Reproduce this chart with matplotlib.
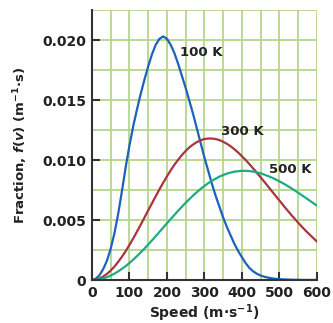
import numpy as np
import matplotlib.pyplot as plt

speed = list(range(0, 601, 10))

f_100K = [0, 0.0001, 0.0004, 0.0009, 0.0016, 0.0026, 0.0039, 0.0055, 0.0074, 0.0094,
          0.0112, 0.0128, 0.0142, 0.0155, 0.0167, 0.0178, 0.0188, 0.0196, 0.0201, 0.0203,
          0.0201, 0.0196, 0.0189, 0.0180, 0.0170, 0.0160, 0.0149, 0.0138, 0.0126, 0.0114,
          0.0102, 0.0091, 0.0080, 0.0070, 0.0061, 0.0052, 0.0044, 0.0037, 0.0030, 0.0024,
          0.0019, 0.0014, 0.0010, 0.00072, 0.00052, 0.00037, 0.00027, 0.0002, 0.00014, 0.0001,
          0.00007, 0.00005, 0.00004, 0.00003, 0.00002, 0.00002, 0.00001, 0.00001, 0.00001,
          0.00001, 0.00001]
f_300K = [0, 0.00003, 0.00013, 0.00029, 0.00051, 0.00079, 0.00112, 0.00151, 0.00194, 0.00241,
          0.00292, 0.00346, 0.00403, 0.00461, 0.0052, 0.0058, 0.00639, 0.00698, 0.00756, 0.00811,
          0.00864, 0.00914, 0.00961, 0.01003, 0.01042, 0.01076, 0.01106, 0.0113, 0.0115, 0.01165,
          0.01175, 0.01179, 0.01179, 0.01175, 0.01166, 0.01152, 0.01135, 0.01114, 0.01089, 0.01062,
          0.01031, 0.01, 0.00965, 0.00929, 0.00892, 0.00855, 0.00817, 0.00778, 0.00739, 0.007,
          0.00662, 0.00623, 0.00585, 0.00548, 0.00512, 0.00477, 0.00443, 0.0041, 0.0038, 0.0035,
          0.0032]
f_500K = [0, 0.00002, 0.00006, 0.00014, 0.00024, 0.00037, 0.00053, 0.00072, 0.00093, 0.00116,
          0.00142, 0.0017, 0.00199, 0.0023, 0.00262, 0.00296, 0.0033, 0.00365, 0.00401, 0.00437,
          0.00473, 0.00508, 0.00543, 0.00578, 0.00611, 0.00644, 0.00675, 0.00705, 0.00733, 0.0076,
          0.00784, 0.00807, 0.00827, 0.00845, 0.00862, 0.00875, 0.00887, 0.00896, 0.00903, 0.00907,
          0.0091, 0.0091, 0.00908, 0.00903, 0.00897, 0.00889, 0.00878, 0.00866, 0.00853, 0.00838,
          0.00822, 0.00805, 0.00787, 0.00768, 0.00748, 0.00727, 0.00706, 0.00685, 0.00663, 0.00641,
          0.00619]

labels = ['100 K', '300 K', '500 K']
label_pos = [(236, 0.0190), (343, 0.0124), (472, 0.0092)]
colors = ['#1a63b8', '#a8353e', '#1cab83']

plt.rcParams['font.family'] = ['DejaVu Sans']
plt.rcParams['font.weight'] = 'bold'
plt.rcParams['mathtext.fontset'] = 'custom'
plt.rcParams['mathtext.rm'] = 'DejaVu Sans:bold'
plt.rcParams['mathtext.it'] = 'DejaVu Sans:italic:bold'
plt.rcParams['mathtext.bf'] = 'DejaVu Sans:bold'

fig = plt.figure(figsize=(3.33, 3.23), dpi=100)
ax = fig.add_axes([0.276, 0.133, 0.676, 0.836])

for y, c in zip([f_100K, f_300K, f_500K], colors):
    ax.plot(speed, y, color=c, lw=1.6, zorder=3, solid_joinstyle='round')

for lab, (x, y) in zip(labels, label_pos):
    ax.text(x, y, lab, fontsize=9.5, fontweight='bold', color='#222222',
            va='center', ha='left', zorder=4)

ax.set_xlim(0, 600)
ax.set_ylim(0, 0.0225)
ax.set_xticks(np.arange(0, 601, 50), minor=True)
ax.set_yticks(np.arange(0, 0.0226, 0.0025), minor=True)
ax.set_xticks(range(0, 601, 100))
ax.set_yticks([0, 0.005, 0.010, 0.015, 0.020])
ax.set_yticklabels(['0', '0.005', '0.010', '0.015', '0.020'])
ax.grid(which='both', color='#b5d68b', lw=1.3, zorder=0)
ax.set_axisbelow(True)

for s in ['top', 'right']:
    ax.spines[s].set_visible(False)
for s in ['left', 'bottom']:
    ax.spines[s].set_color('#333333')
    ax.spines[s].set_linewidth(1.5)
    ax.spines[s].set_zorder(5)

ax.tick_params(which='major', direction='in', length=6, width=1.5,
               color='#333333', labelsize=10, pad=4)
ax.tick_params(which='minor', length=0)
for t in ax.get_xticklabels() + ax.get_yticklabels():
    t.set_fontweight('bold')
    t.set_color('#222222')

ax.set_xlabel('Speed (m\u00b7s$^{-1}$)', fontsize=10, fontweight='bold',
              color='#222222', labelpad=2)
ax.set_ylabel('Fraction, $\\mathit{f}$($\\mathit{v}$) (m$^{-1}$\u00b7s)',
              fontsize=9.5, fontweight='bold', color='#222222', labelpad=9)

fig.savefig('out.png', dpi=100)
